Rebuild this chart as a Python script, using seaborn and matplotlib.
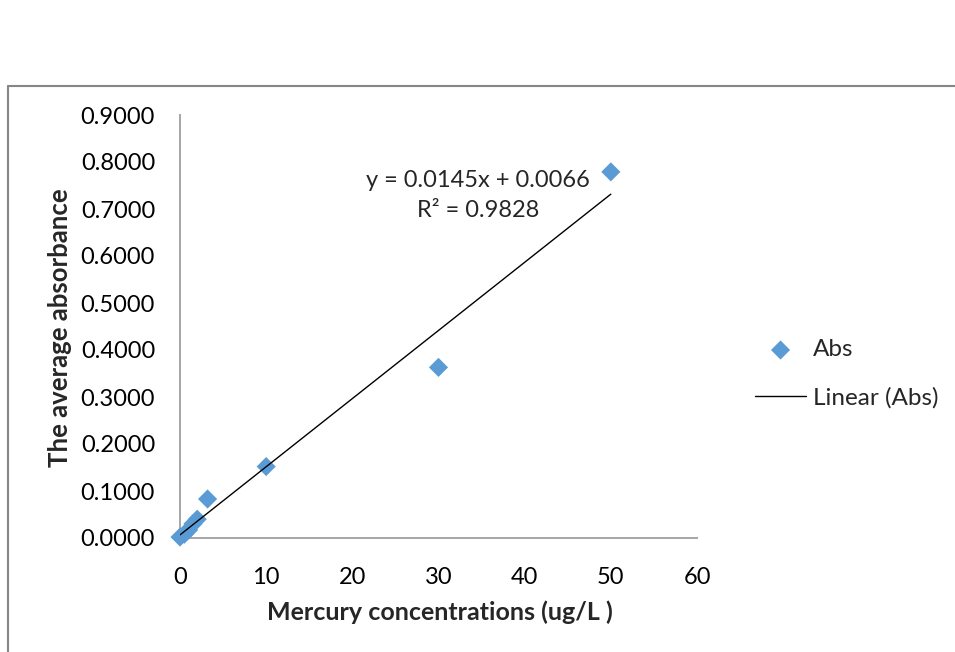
import matplotlib
matplotlib.use("Agg")
import matplotlib.pyplot as plt
from matplotlib.lines import Line2D
import numpy as np
import pandas as pd
import seaborn as sns

# Calibration data: mercury standard concentration vs. mean absorbance
concentration = [0, 0.5, 1, 1.5, 2, 3.2, 10, 30, 50]
absorbance = [0.002, 0.008, 0.017, 0.030, 0.040, 0.083, 0.152, 0.363, 0.779]

# Linear trendline reported on the chart
slope = 0.0145
intercept = 0.0066
r_squared = 0.9828

x_ticks = [0, 10, 20, 30, 40, 50, 60]
y_ticks = [0.0, 0.1, 0.2, 0.3, 0.4, 0.5, 0.6, 0.7, 0.8, 0.9]

df = pd.DataFrame({"conc": concentration, "abs": absorbance})
trend_x = np.array([min(concentration), max(concentration)])
trend = pd.DataFrame({"conc": trend_x, "fit": slope * trend_x + intercept})

sns.set_theme(style="white")
plt.rcParams["font.family"] = ["Lato", "DejaVu Sans"]

fig = plt.figure(figsize=(9.55, 6.52), dpi=100)
ax = fig.add_axes([180 / 955, 1 - 538 / 652, 517 / 955, 423 / 652])

sns.scatterplot(data=df, x="conc", y="abs", ax=ax, marker="D", s=95,
                color="#5b9bd5", edgecolor="none", label="Abs", zorder=3,
                clip_on=False)
sns.lineplot(data=trend, x="conc", y="fit", ax=ax, color="black",
             linewidth=1.0, label="Linear (Abs)", zorder=4)

ax.set_xlim(0, 60)
ax.set_ylim(0, 0.9)
ax.set_xticks(x_ticks)
ax.set_yticks(y_ticks)
ax.set_xticklabels([str(v) for v in x_ticks])
ax.set_yticklabels([f"{v:.4f}" for v in y_ticks])
ax.tick_params(axis="both", length=0, labelsize=17, colors="black")
ax.tick_params(axis="x", pad=21)
ax.tick_params(axis="y", pad=18)

for side in ("top", "right"):
    ax.spines[side].set_visible(False)
for side in ("left", "bottom"):
    ax.spines[side].set_color("#a6a6a6")
    ax.spines[side].set_linewidth(1.4)

ax.set_xlabel("Mercury concentrations (ug/L )", fontsize=18, fontweight="bold")
ax.set_ylabel("The average absorbance", fontsize=18.5, fontweight="bold")
ax.xaxis.label.set_va("center")
ax.yaxis.label.set_va("center")
ax.xaxis.set_label_coords((440 - 180) / 517, (538 - 612) / 423)
ax.yaxis.set_label_coords((60 - 180) / 517, (538 - 328) / 423)

ax.text(34.6, 0.729, f"y = {slope:.4f}x + {intercept:.4f}\nR² = {r_squared:.4f}",
        ha="center", va="center", fontsize=17, linespacing=1.5,
        multialignment="center")

ax.legend(loc="center left", bbox_to_anchor=(755 / 955, 1 - 374 / 652),
          bbox_transform=fig.transFigure, frameon=False, fontsize=17.5,
          handlelength=2.1, handletextpad=0.3, labelspacing=1.1,
          borderpad=0, borderaxespad=0)

# Chart-area frame (left and top edges)
fig.add_artist(Line2D([8 / 955, 8 / 955], [0, 1 - 86 / 652],
                      transform=fig.transFigure, color="#868686", lw=1.5))
fig.add_artist(Line2D([8 / 955, 1], [1 - 86 / 652, 1 - 86 / 652],
                      transform=fig.transFigure, color="#868686", lw=1.5))

fig.savefig("out.png", dpi=100, facecolor="white")
